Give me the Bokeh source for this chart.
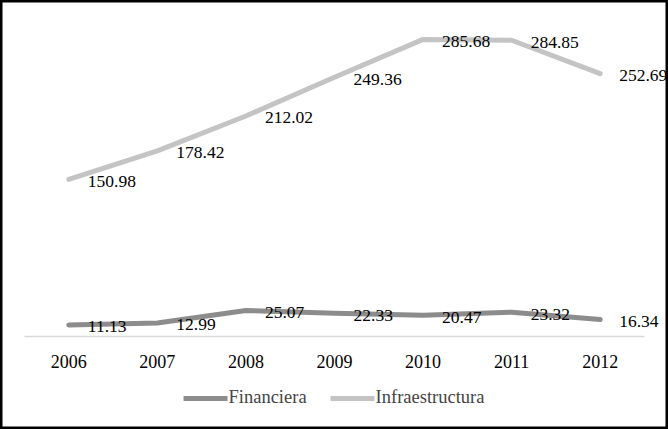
from bokeh.plotting import figure
from bokeh.models import ColumnDataSource, Legend, LegendItem, Range1d, LabelSet, FactorRange
from bokeh.core.properties import value
from bokeh.embed import file_html
from bokeh.resources import INLINE

years = ["2006", "2007", "2008", "2009", "2010", "2011", "2012"]
financiera = [11.13, 12.99, 25.07, 22.33, 20.47, 23.32, 16.34]
infraestructura = [150.98, 178.42, 212.02, 249.36, 285.68, 284.85, 252.69]

FONT = "Liberation Serif"
W, H = 668, 429

src = ColumnDataSource(data=dict(
    year=years,
    fin=financiera,
    infra=infraestructura,
    fin_lbl=[f"{v:.2f}" for v in financiera],
    infra_lbl=[f"{v:.2f}" for v in infraestructura],
))

# frame fills the whole canvas; the x axis sits at y=0 inside it
cat_px = 620 / len(years)
pad = (W / cat_px - len(years)) / 2
p = figure(
    x_range=FactorRange(factors=years, range_padding=pad,
                        range_padding_units="absolute"),
    y_range=Range1d(-93 / 1.04, 336 / 1.04),
    frame_width=W,
    frame_height=H,
    min_border=0,
    y_axis_location=None,
    toolbar_location=None,
    output_backend="svg",
)
p.outline_line_color = "black"
p.outline_line_width = 4
p.xgrid.grid_line_color = None
p.ygrid.grid_line_color = None

ax = p.xaxis[0]
ax.fixed_location = 0
ax.bounds = (0, len(years))
ax.axis_line_color = "#d9d9d9"
ax.axis_line_width = 1.5
ax.major_tick_line_color = None
ax.minor_tick_line_color = None
ax.major_label_standoff = 12
ax.major_label_text_font = FONT
ax.major_label_text_font_size = "18px"
ax.major_label_text_color = "black"

r_fin = p.line("year", "fin", source=src, line_color="#8c8c8c", line_width=5,
               line_cap="round", line_join="round")
r_infra = p.line("year", "infra", source=src, line_color="#c4c4c4", line_width=5,
                 line_cap="round", line_join="round")

for col in ("fin", "infra"):
    labels = LabelSet(x="year", y=col, text=col + "_lbl", source=src,
                      x_offset=19, y_offset=-2,
                      text_align="left", text_baseline="middle",
                      text_font=value(FONT), text_font_size=value("17.5px"),
                      text_color="black")
    p.add_layout(labels)

legend = Legend(
    items=[LegendItem(label="Financiera", renderers=[r_fin]),
           LegendItem(label="Infraestructura", renderers=[r_infra])],
    orientation="horizontal",
    location="bottom_center",
    glyph_width=44,
    glyph_height=20,
    label_standoff=1,
    spacing=24,
    padding=0,
    margin=21,
    border_line_color=None,
    background_fill_alpha=0,
    label_text_font=FONT,
    label_text_font_size="18.5px",
)
p.add_layout(legend)

open("out.html", "w").write(file_html(p, INLINE))
